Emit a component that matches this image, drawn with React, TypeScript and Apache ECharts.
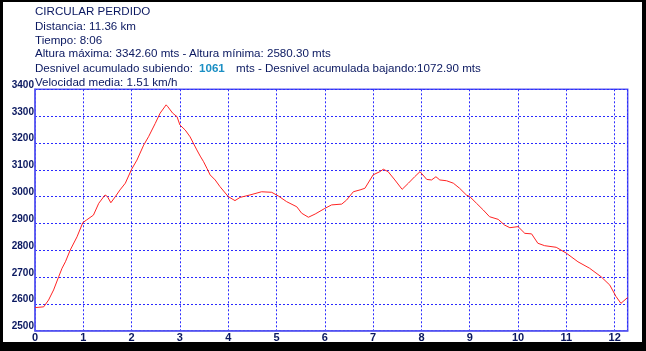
import React, { useEffect, useRef } from "react";
import * as echarts from "echarts";

const distanceKm = [
  0, 0.18, 0.28, 0.385, 0.49, 0.56, 0.63, 0.73, 0.87, 0.99, 1.07, 1.21, 1.32, 1.45, 1.5, 1.57, 1.66, 1.76, 1.87,
  2.0, 2.11, 2.25, 2.35, 2.49, 2.59, 2.715, 2.75, 2.85, 2.94, 3.0, 3.11, 3.21, 3.35, 3.42, 3.49, 3.56, 3.625,
  3.73, 3.83, 4.0, 4.14, 4.245, 4.45, 4.69, 4.9, 5.04, 5.21, 5.42, 5.52, 5.66, 5.8, 6.0, 6.14, 6.35, 6.45,
  6.59, 6.73, 6.83, 7.0, 7.14, 7.21, 7.31, 7.45, 7.6, 7.73, 7.86, 7.97, 8.11, 8.21, 8.3, 8.38, 8.52, 8.66,
  8.79, 8.93, 9.0, 9.14, 9.28, 9.41, 9.59, 9.72, 9.83, 10.0, 10.14, 10.28, 10.41, 10.55, 10.79, 11.0, 11.24,
  11.48, 11.72, 11.9, 12.03, 12.13, 12.27,
];
const elevationM = [
  2586, 2589, 2614, 2652, 2701, 2733, 2757, 2801, 2850, 2903, 2913, 2931, 2975, 3006, 3000, 2977, 2999, 3025, 3050,
  3102, 3136, 3192, 3223, 3273, 3311, 3342, 3335, 3311, 3298, 3267, 3248, 3223, 3174, 3151, 3130, 3105, 3081,
  3062, 3037, 3000, 2985, 2997, 3006, 3018, 3016, 3002, 2981, 2962, 2938, 2923, 2935, 2956, 2969, 2972, 2987,
  3018, 3025, 3031, 3081, 3093, 3102, 3093, 3062, 3027, 3050, 3074, 3093, 3064, 3062, 3074, 3062, 3059, 3050,
  3031, 3006, 3000, 2975, 2950, 2925, 2915, 2894, 2884, 2888, 2863, 2861, 2826, 2817, 2811, 2789, 2757,
  2733, 2701, 2670, 2627, 2602, 2624,
];

const titleLines = [
  "CIRCULAR PERDIDO",
  "Distancia: 11.36 km",
  "Tiempo: 8:06",
  "Altura máxima: 3342.60 mts - Altura mínima: 2580.30 mts",
];
const climbLabel = "Desnivel acumulado subiendo:";
const climbValue = "1061";
const descentLabel = "mts - Desnivel acumulada bajando:1072.90 mts";
const speedLine = "Velocidad media: 1.51 km/h";

const X_MIN = 0;
const X_MAX = 12.27;
const Y_MIN = 2500;
const Y_MAX = 3400;

export default function App() {
  const ref = useRef<HTMLDivElement>(null);
  useEffect(() => {
    if (!ref.current) return;
    const chart = echarts.init(ref.current, undefined, { renderer: "svg" });
    const navy = "#0a1860";
    const font = "'Liberation Sans', Arial, sans-serif";
    const fs = "11.6px";
    const lineYs = [10.7, 25, 39, 52.7];
    const graphics: any[] = [
      { type: "rect", shape: { x: 0, y: 0, width: 646, height: 351 }, style: { fill: "#000" }, z: -10, silent: true },
      { type: "rect", shape: { x: 3, y: 2, width: 639, height: 340 }, style: { fill: "#fff" }, z: -9, silent: true },
    ];
    titleLines.forEach((t, i) => {
      graphics.push({
        type: "text",
        x: 35,
        y: lineYs[i],
        style: { text: t, fill: navy, font: `${fs} ${font}`, verticalAlign: "middle" },
      });
    });
    graphics.push(
      { type: "text", x: 35, y: 67.7, style: { text: climbLabel, fill: navy, font: `${fs} ${font}`, verticalAlign: "middle" } },
      { type: "text", x: 199, y: 67.7, style: { text: climbValue, fill: "#1b8fc4", font: `bold ${fs} ${font}`, verticalAlign: "middle" } },
      { type: "text", x: 236, y: 67.7, style: { text: descentLabel, fill: navy, font: `${fs} ${font}`, verticalAlign: "middle" } },
      { type: "text", x: 35, y: 81, style: { text: speedLine, fill: navy, font: `${fs} ${font}`, verticalAlign: "middle" }, z: 100 }
    );

    chart.setOption({
      animation: false,
      backgroundColor: "transparent",
      grid: {
        left: 35,
        top: 89.3,
        right: 18.3,
        bottom: 20.3,
        show: true,
        backgroundColor: "#fff",
        borderColor: "#5a5af0",
        borderWidth: 1.5,
      },
      xAxis: {
        type: "value",
        min: X_MIN,
        max: X_MAX,
        interval: 1,
        axisLine: { show: true, lineStyle: { color: "#5a5af0", width: 1.5 } },
        axisTick: { show: false },
        axisLabel: {
          showMaxLabel: false,
          color: navy,
          fontFamily: font,
          fontWeight: "bold",
          fontSize: 11,
          margin: 1,
        },
        splitLine: { show: true, lineStyle: { color: "#2a2aff", type: [2, 2], width: 1 } },
      },
      yAxis: {
        type: "value",
        min: Y_MIN,
        max: Y_MAX,
        interval: 100,
        axisLine: { show: true, lineStyle: { color: "#5a5af0", width: 1.5 } },
        axisTick: { show: false },
        axisLabel: {
          formatter: (v: number) => String(v),
          color: navy,
          fontFamily: font,
          fontWeight: "bold",
          fontSize: 10,
          margin: 1,
          verticalAlign: "bottom",
          lineHeight: 10,
        },
        splitLine: { show: true, lineStyle: { color: "#2a2aff", type: [2, 2], width: 1 } },
      },
      series: [
        {
          type: "line",
          data: distanceKm.map((d, i) => [d, elevationM[i]]),
          showSymbol: false,
          lineStyle: { color: "#ff2424", width: 1 },
          z: 5,
        },
      ],
      graphic: graphics,
    });
    return () => chart.dispose();
  }, []);
  return (
    <div
      ref={ref}
      style={{ position: "fixed", left: 0, top: 0, width: 646, height: 351 }}
    />
  );
}
